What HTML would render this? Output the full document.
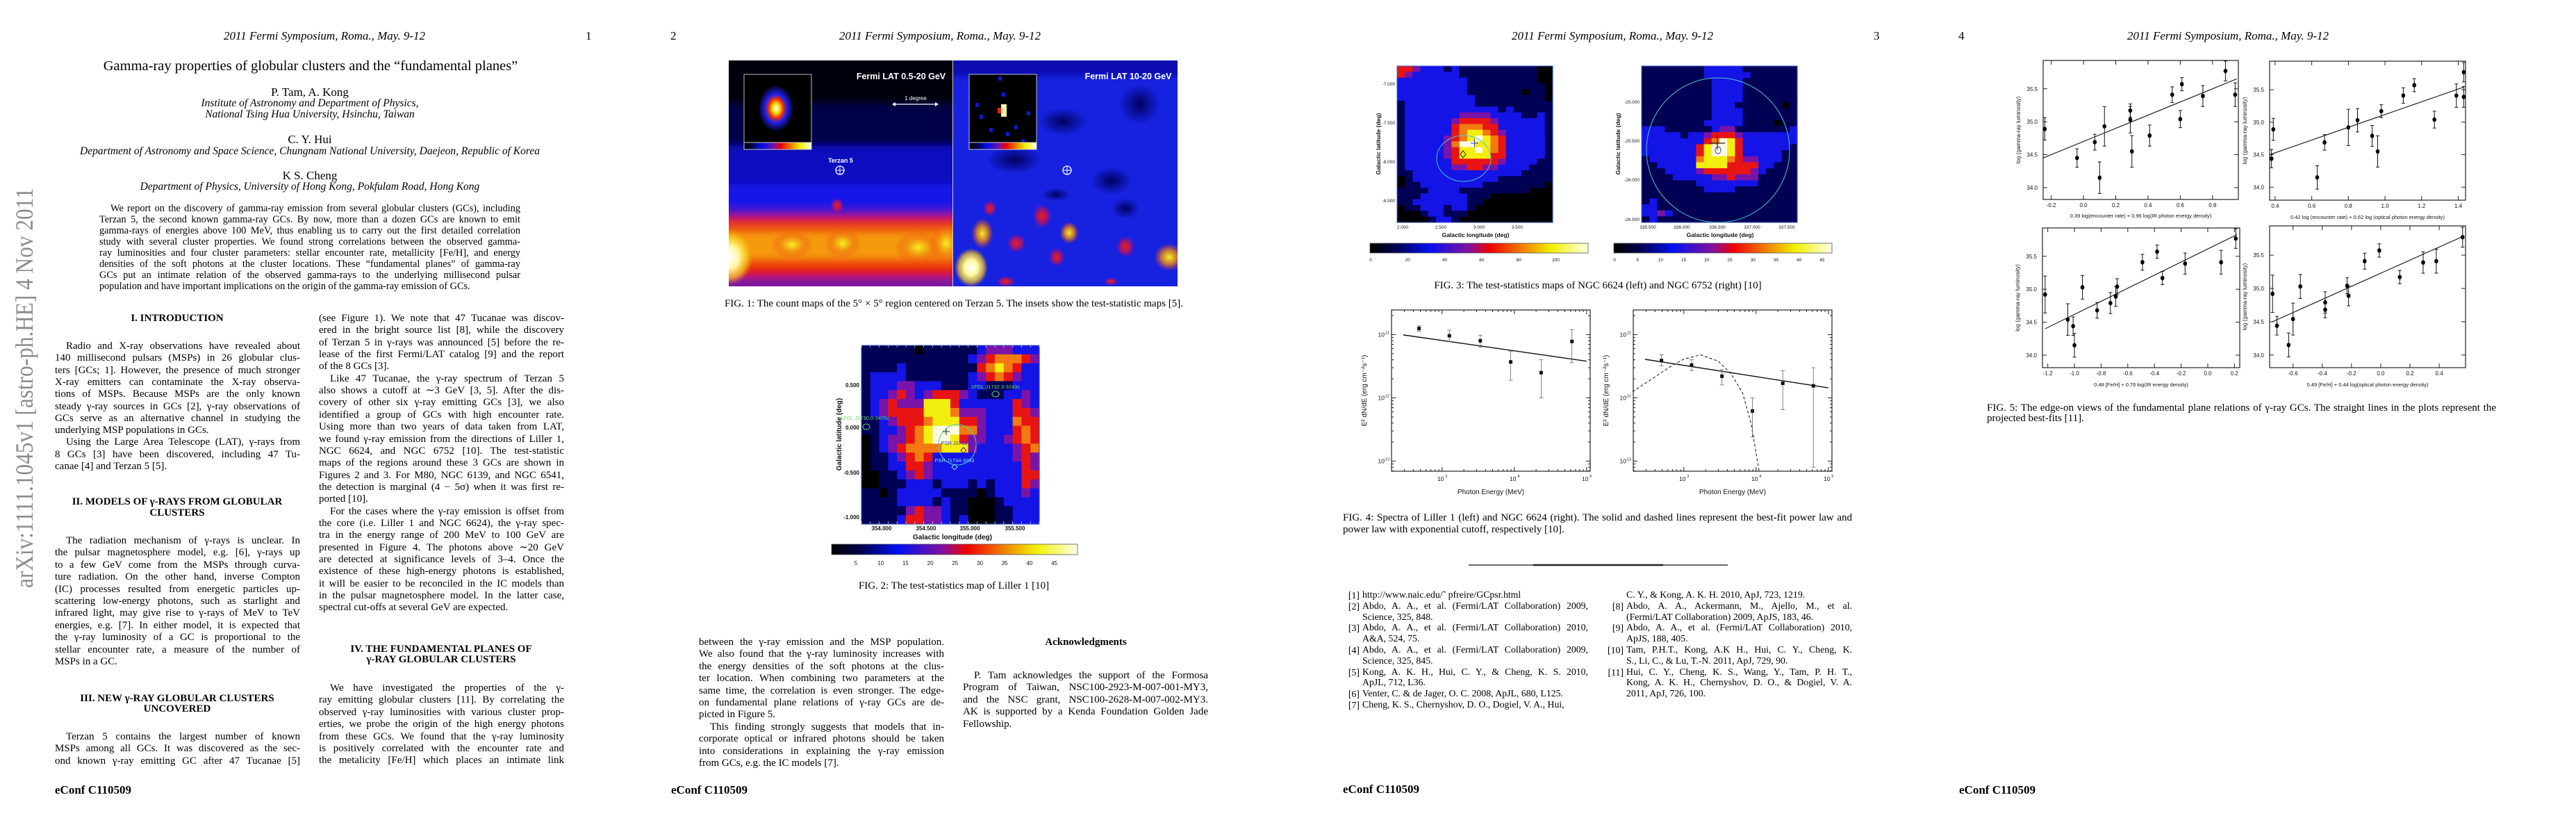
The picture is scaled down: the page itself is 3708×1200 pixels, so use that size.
<!DOCTYPE html>
<html><head><meta charset="utf-8">
<style>
body{margin:0;width:3708px;height:1200px;background:#fff;position:relative;overflow:hidden;font-family:"Liberation Serif",serif;color:#000}
.a{position:absolute;white-space:nowrap}
.c{position:absolute;white-space:nowrap;text-align:center}
.ln{position:absolute;height:18px;line-height:18px;font-size:15px;text-align:justify;text-align-last:justify;overflow:hidden;white-space:normal}
.ln.last{text-align-last:left}
.hd{font-style:italic;font-size:17px}
.sec{font-weight:bold;font-size:15px}
svg text{font-family:"Liberation Sans",sans-serif}
</style></head>
<body>
<svg id="g" width="3708" height="1200" style="position:absolute;left:0;top:0">
<defs>
<linearGradient id="cb" x1="0" x2="1" y1="0" y2="0">
<stop offset="0" stop-color="#000"/><stop offset="0.12" stop-color="#000050"/><stop offset="0.27" stop-color="#0010f0"/><stop offset="0.45" stop-color="#8010a0"/><stop offset="0.55" stop-color="#f00000"/><stop offset="0.7" stop-color="#f08000"/><stop offset="0.83" stop-color="#f0f000"/><stop offset="1" stop-color="#ffffe8"/>
</linearGradient>
<radialGradient id="hotw"><stop offset="0" stop-color="#ffffff"/><stop offset="0.4" stop-color="#fff8a0"/><stop offset="0.75" stop-color="#f8d020" stop-opacity="0.7"/><stop offset="1" stop-color="#f0a000" stop-opacity="0"/></radialGradient>
<radialGradient id="hoty"><stop offset="0" stop-color="#f8f020"/><stop offset="0.5" stop-color="#f09010" stop-opacity="0.8"/><stop offset="1" stop-color="#f04010" stop-opacity="0"/></radialGradient>
<radialGradient id="hotr"><stop offset="0" stop-color="#f02010"/><stop offset="0.6" stop-color="#c01060" stop-opacity="0.7"/><stop offset="1" stop-color="#6010c0" stop-opacity="0"/></radialGradient>
<radialGradient id="navy"><stop offset="0" stop-color="#000060"/><stop offset="1" stop-color="#000060" stop-opacity="0"/></radialGradient>
<radialGradient id="ins"><stop offset="0" stop-color="#ffffff"/><stop offset="0.2" stop-color="#f8e000"/><stop offset="0.4" stop-color="#f03000"/><stop offset="0.6" stop-color="#2020f0"/><stop offset="1" stop-color="#000" stop-opacity="1"/></radialGradient>
<clipPath id="clipL"><rect x="1049" y="87" width="322" height="325"/></clipPath>
<clipPath id="clipR"><rect x="1372" y="87" width="323" height="325"/></clipPath>
<filter id="bl" x="-10%" y="-10%" width="120%" height="120%"><feGaussianBlur stdDeviation="5"/></filter>
</defs>
</svg>
<div id="t"></div>
<script>
// ---------------- chart data (Fig. 4 spectra) ----------------
const spL_energy=[480,1260,3380,8900,23500,62700];
const spL_flux=[1.25e-11,9.6e-12,8.0e-12,3.7e-12,2.5e-12,7.8e-12];
const spL_errLo=[1.12e-11,7.7e-12,6.3e-12,1.9e-12,1.0e-12,3.6e-12];
const spL_errHi=[1.38e-11,1.18e-11,9.8e-12,5.4e-12,4.0e-12,1.2e-11];
const spL_fitE=[290,100000];
const spL_fitF=[9.9e-12,3.8e-12];
const spR_energy=[490,1280,3370,8900,23400,62000];
const spR_flux=[3.9e-12,3.3e-12,2.2e-12,6.2e-13,1.7e-12,1.55e-12];
const spR_errLo=[3.2e-12,2.7e-12,1.6e-12,2.4e-13,6.5e-13,8e-14];
const spR_errHi=[4.8e-12,4.0e-12,2.8e-12,1.0e-12,2.7e-12,3.0e-12];
const spR_fitE=[290,100000];
const spR_fitF=[4.07e-12,1.44e-12];
const spR_cutE=[195,400,700,1000,1700,3000,4500,6500,8500,11000];
const spR_cutF=[1.25e-12,2.15e-12,3.3e-12,4.1e-12,4.8e-12,3.8e-12,2.4e-12,1.2e-12,4e-13,7e-14];
const spXTicks=[1e3,1e4,1e5];
const spXTickLabels=["10","10","10"];
const spXTickExp=["3","4","5"];
const spYTicks=[1e-11,1e-12,1e-13];
const spYTickExp=["-11","-12","-13"];

// ---------------- chart data (Fig. 5 fundamental planes) ----------------
const fpTL_x=[-0.24,-0.04,0.07,0.10,0.13,0.29,0.29,0.30,0.41,0.55,0.60,0.61,0.74,0.88,0.94];
const fpTL_y=[34.89,34.45,34.69,34.15,34.93,35.03,35.17,34.55,34.79,35.41,35.04,35.57,35.39,35.77,35.41];
const fpTL_err=[0.17,0.14,0.12,0.24,0.3,0.2,0.1,0.24,0.16,0.12,0.13,0.1,0.16,0.15,0.18];
const fpTL_fitX=[-0.25,0.95]; const fpTL_fitY=[34.45,35.65];
const fpTR_x=[0.39,0.38,0.63,0.67,0.80,0.85,0.93,0.96,0.98,1.10,1.16,1.27,1.39,1.43,1.43];
const fpTR_y=[34.89,34.44,34.15,34.69,34.92,35.03,34.79,34.55,35.17,35.41,35.57,35.04,35.41,35.39,35.77];
const fpTR_err=[0.17,0.14,0.18,0.12,0.28,0.18,0.16,0.24,0.1,0.12,0.1,0.13,0.18,0.16,0.15];
const fpTR_fitX=[0.37,1.43]; const fpTR_fitY=[34.5,35.54];
const fpBL_x=[-1.22,-1.05,-1.01,-1.00,-0.94,-0.83,-0.73,-0.69,-0.68,-0.49,-0.38,-0.34,-0.17,0.10,0.21];
const fpBL_y=[34.92,34.54,34.44,34.15,35.03,34.68,34.79,34.89,35.04,35.41,35.57,35.17,35.39,35.41,35.77];
const fpBL_err=[0.28,0.24,0.14,0.18,0.18,0.12,0.16,0.15,0.12,0.12,0.1,0.1,0.16,0.18,0.15];
const fpBL_fitX=[-1.22,0.22]; const fpBL_fitY=[34.4,35.83];
const fpBR_x=[-0.74,-0.71,-0.63,-0.60,-0.55,-0.38,-0.38,-0.23,-0.22,-0.11,-0.01,0.13,0.29,0.38,0.56];
const fpBR_y=[34.92,34.44,34.15,34.54,35.03,34.79,34.68,35.04,34.89,35.41,35.57,35.17,35.39,35.41,35.77];
const fpBR_err=[0.28,0.14,0.18,0.24,0.18,0.16,0.12,0.12,0.15,0.12,0.1,0.1,0.16,0.18,0.15];
const fpBR_fitX=[-0.74,0.56]; const fpBR_fitY=[34.5,35.78];
const fpYTicks=[34.0,34.5,35.0,35.5];
const fpYTickLabels=["34.0","34.5","35.0","35.5"];
const fpTL_xticks=[-0.2,0.0,0.2,0.4,0.6,0.8];
const fpTR_xticks=[0.4,0.6,0.8,1.0,1.2,1.4];
const fpBL_xticks=[-1.2,-1.0,-0.8,-0.6,-0.4,-0.2,0.0,0.2];
const fpBR_xticks=[-0.6,-0.4,-0.2,0.0,0.2,0.4];

// ---------------- heatmap data (colour codes) ----------------
const fig2Rows=["nnnnnnknnnnnnbpppbbb","nnnnnnnnnnnnbprooorp","nnnnbnnnnnnnnroyorbb","nbbbbnnnnnnnbprorpbb","nbbbppbbbnnnbbnnnbbb","nbbprpbprrrpbnnnbbpb","nbprpppyyyrbbbbbbrpb","nbprrrryyyopppbbbrrp","nnbprrroyyyrrpbbborr","nnbbproywwwoopbbbror","knbpproywwyrppbbpror","knbprooooyyypbbbbpror","knnbprorbbbbbbbbbprp","knnbbrrpbbbbbbbbbbrp","kknnbprpbbbbbbbbbbrr","kknnnbbbnbbbnbnbbbrp","nnknbbbbbnnnnknbbbpb","nnnnbbbbnbnnkkknbbbb","nnnnnprppbnnkkknnbbb","nnnnbrrppbnbkkknnbbb"];
const fig3LRows=["rrpbbbnbnnnnnnnnnnkk","rpbbbbbbnnnnnnnnnnkk","bbbbbbbbbnnnnnnnnnkk","bbbbbbbbbnnnnnnnnnnk","bbbbbbbbbnnnnnnnknnk","bbbbbbbbbbnnnnnnnnnk","nbbbbbbbbbnnnnnnnnnn","nbbbbbbbbbbbbnbnnnnn","nbbbbbbbppppbbbbnnbn","nbbbbbbprrrrpbbbbbbn","nbbbbbbrooorrbbbbbbn","nbbbbbbroyyorpbbbbbn","nbbbbbproywyorbbbbbn","nbbbbbpowwyyorbbbbbn","nbbbbbpryywyorbbbbbn","nbbbbbpryyyyrrbbbbbn","nbbbbbbrrrrrrpbbbbnn","nbbbbbbpprrppbbbbnnn","nnbbbbbbbbbbbbbbnnnn","knbbbbbbbbbbbnnnnnnn","knnbbbbbbbbnnnnnnnnk","nnnnbbbbnnnnnnnnnkkk","nnnbbbbbbnnnkkkkkkkk","nnbbbbbbbnnkkkkkkkkk","knnbbbnbbnkkkkkkkkkk","kkknbbnnnkkkkkkkkkkk","kkkknbbnkkkkkkkkkkkk"];
const fig3RRows=["nnnnnnnnbbbbbnnnnnnn","nnnnnnnnbbbbbbnnnnnn","nnnnnnnnnbbbbnnnnnnn","nnnnnnnnnbbbbnnnnnnn","nnnnnnnnnbbbbnnnnnnn","nnnnnnnnnbbbbnnnnnnn","nnnnnnnnnbbbnnnnnnkn","nnnnnnnnnbbbbnnnnnnn","nnnnnnnnnbbbbnnnnnnn","nnnnnnnnbbbbbnnnnknn","bbbnnnnnnbppnnnnnnnb","bbbbbnbbprrrpbbbbbbb","bbbbbbbbrowyrbbbbbbb","bbbbbbbrywwyrbbbbbbn","bbbbbbbrywwyrbbbbbnn","nbbbbbboyyyorppbbbnn","nnbbbbbyyyyrrrrbbnnn","nnnbbbbprrrrrrpbnnnn","nnnnbbbbbpprpppnnnnn","nnnnnnnbbbbbbbbnnnnn","nnnnnnnnbbbbnnnnnnnn","nnnnnnnnnnnnnnnnnnnn","nbnnnnnnnnnnnnnnnnnn","bbnnnnnnnnnnnnnnnnnn","bbpbnnnnnnnnnnnnnnnn","nbnnnnnnnnnnnnnnnnnn"];
const heatColors={k:"#000000",n:"#000055",b:"#1414e6",p:"#7a14a8",r:"#e81414",o:"#f27a10",y:"#f2ee10",w:"#fffbe0"};
// Fig.1 count-map vertical colour bands [yTop, yBottom, colour]
const fig1LeftBands=[[70,150,"#000010"],[150,210,"#000048"],[210,265,"#0a0ac0"],[265,300,"#1818e8"],[300,311,"#5a18b8"],[311,322,"#d81838"],[322,335,"#f05010"],[335,372,"#f59a10"],[372,385,"#f04a10"],[385,398,"#e01818"],[398,430,"#8018a0"]];
const fig1RightBands=[[70,110,"#0a10b0"],[110,430,"#1420e0"]];
// Fig.1 count-map blobs [cx, cy, rx, ry, kind]
const fig1LeftBlobs=[[1050,370,34,40,"hotw"],[1213,350,26,22,"hoty"],[1322,356,34,24,"hoty"],[1362,350,24,30,"hoty"],[1140,352,30,20,"hoty"],[1205,296,10,12,"hotr"]];
const fig1RightBlobs=[[1414,336,16,22,"hoty"],[1398,385,24,28,"hotw"],[1539,335,14,16,"hoty"],[1463,350,14,14,"hotr"],[1620,355,14,16,"hotr"],[1683,370,22,20,"hoty"],[1500,311,14,18,"hotr"],[1521,370,12,14,"hotr"],[1448,405,14,8,"hotr"],[1599,405,10,6,"hotr"],[1425,300,10,12,"hotr"],[1530,175,35,20,"navy"],[1640,150,30,30,"navy"],[1460,230,40,20,"navy"],[1600,260,30,20,"navy"],[1520,280,20,10,"navy"],[1620,300,20,15,"navy"]];

const svg=document.getElementById('g');
const root=document.getElementById('t');
const NS="http://www.w3.org/2000/svg";
function el(tag,attrs,parent){const e=document.createElementNS(NS,tag);for(const k in attrs)e.setAttribute(k,attrs[k]);(parent||svg).appendChild(e);return e;}
function stxt(x,y,s,size,anchor,extra){const e=el('text',Object.assign({x:x,y:y,'font-size':size,'text-anchor':anchor||'middle',fill:'#111'},extra||{}));e.textContent=s;return e;}

// ---------- text helpers ----------
function para(x,y0,dy,w,arr,fs){
  arr.forEach((s,i)=>{
    const d=document.createElement('div');
    const ind=s[0]==='^'; const last=s.endsWith('$');
    s=s.replace(/^\^/,'').replace(/\$$/,'');
    d.className='ln'+(last?' last':'');
    d.style.left=(x+(ind?16:0))+'px'; d.style.width=(w-(ind?16:0))+'px';
    d.style.top=(y0+i*dy-9)+'px';
    if(fs)d.style.fontSize=fs+'px';
    d.textContent=s;
    
    
    root.appendChild(d);
  });
}
function ctext(cx,cy,s,cls,style,name){
  const d=document.createElement('div');
  d.className='c '+(cls||'');
  d.style.left=(cx-450)+'px';d.style.width='900px';d.style.top=(cy-10)+'px';d.style.lineHeight='20px';
  if(style)d.style.cssText+=style;
  d.textContent=s;
  
  
  root.appendChild(d);return d;
}
function ltext(x,cy,s,cls,style,name){
  const d=document.createElement('div');
  d.className='a '+(cls||'');
  d.style.left=x+'px';d.style.top=(cy-10)+'px';d.style.lineHeight='20px';
  if(style)d.style.cssText+=style;
  d.textContent=s;
  
  
  root.appendChild(d);return d;
}

// ---------- headers / footers ----------
const P=[0,927,1854,2781];
[0,2].forEach(i=>{ctext(P[i]+467,52,'2011 Fermi Symposium, Roma., May. 9-12','hd','','running-header');ltext(P[i]+843,52,String(i+1),'','font-size:17px','page-number');});
[1,3].forEach(i=>{ctext(P[i]+426,52,'2011 Fermi Symposium, Roma., May. 9-12','hd','','running-header');ltext(P[i]+38,52,String(i+1),'','font-size:17px','page-number');});
ltext(79,1137,'eConf C110509','','font-weight:bold;font-size:17px','footer-econf');
ltext(927+39,1137,'eConf C110509','','font-weight:bold;font-size:17px','footer-econf');
ltext(1854+79,1136,'eConf C110509','','font-weight:bold;font-size:17px','footer-econf');
ltext(2781+39,1137,'eConf C110509','','font-weight:bold;font-size:17px','footer-econf');

// arXiv side stamp
const ax=document.createElement('div');
ax.className='a';ax.style.cssText+='font-size:36px;color:#8c8c8c;line-height:40px;left:0;top:0;transform-origin:0 0;';
ax.textContent='arXiv:1111.1045v1  [astro-ph.HE]  4 Nov 2011';


root.appendChild(ax);
{const w=ax.offsetWidth||740;const k=576/w;ax.style.transform='translate(15px,846px) rotate(-90deg) scaleX('+k+')';}

// ---------- page 1 ----------
ctext(447,95,'Gamma-ray properties of globular clusters and the \u201cfundamental planes\u201d','', 'font-size:20.5px','paper-title');
ctext(446,133,'P. Tam,  A. Kong','','font-size:17px','authors');
ctext(446,149,'Institute of Astronomy and Department of Physics,','','font-style:italic;font-size:15.5px','affiliation');
ctext(446,165,'National Tsing Hua University, Hsinchu, Taiwan','','font-style:italic;font-size:15.5px','affiliation');
ctext(446,201,'C. Y. Hui','','font-size:17px','author');
ctext(446,218,'Department of Astronomy and Space Science, Chungnam National University, Daejeon, Republic of Korea','','font-style:italic;font-size:15.5px','affiliation');
ctext(446,253,'K S. Cheng','','font-size:17px','author');
ctext(446,269,'Department of Physics, University of Hong Kong, Pokfulam Road, Hong Kong','','font-style:italic;font-size:15.5px','affiliation');
para(143,300,16,606,[
"^We report on the discovery of gamma-ray emission from several globular clusters (GCs), including",
"Terzan 5, the second known gamma-ray GCs. By now, more than a dozen GCs are known to emit",
"gamma-rays of energies above 100 MeV, thus enabling us to carry out the first detailed correlation",
"study with several cluster properties. We found strong correlations between the observed gamma-",
"ray luminosities and four cluster parameters: stellar encounter rate, metallicity [Fe/H], and energy",
"densities of the soft photons at the cluster locations. These \u201cfundamental planes\u201d of gamma-ray",
"GCs put an intimate relation of the observed gamma-rays to the underlying millisecond pulsar",
"population and have important implications on the origin of the gamma-ray emission of GCs.$"],14.3);
ctext(255,458,'I.   INTRODUCTION','sec','','section-heading');
para(79,498,17.3,353,[
"^Radio and X-ray observations have revealed about",
"140 millisecond pulsars (MSPs) in 26 globular clus-",
"ters [GCs; 1]. However, the presence of much stronger",
"X-ray emitters can contaminate the X-ray observa-",
"tions of MSPs. Because MSPs are the only known",
"steady \u03b3-ray sources in GCs [2], \u03b3-ray observations of",
"GCs serve as an alternative channel in studying the",
"underlying MSP populations in GCs.$",
"^Using the Large Area Telescope (LAT), \u03b3-rays from",
"8 GCs [3] have been discovered, including 47 Tu-",
"canae [4] and Terzan 5 [5].$"]);
ctext(255,722,'II.   MODELS OF \u03b3-RAYS FROM GLOBULAR','sec','','section-heading');
ctext(255,738,'CLUSTERS','sec','','section-heading');
para(79,778,17.4,353,[
"^The radiation mechanism of \u03b3-rays is unclear. In",
"the pulsar magnetosphere model, e.g. [6], \u03b3-rays up",
"to a few GeV come from the MSPs through curva-",
"ture radiation. On the other hand, inverse Compton",
"(IC) processes resulted from energetic particles up-",
"scattering low-energy photons, such as starlight and",
"infrared light, may give rise to \u03b3-rays of MeV to TeV",
"energies, e.g. [7]. In either model, it is expected that",
"the \u03b3-ray luminosity of a GC is proportional to the",
"stellar encounter rate, a measure of the number of",
"MSPs in a GC.$"]);
ctext(255,1005,'III.   NEW \u03b3-RAY GLOBULAR CLUSTERS','sec','','section-heading');
ctext(255,1020,'UNCOVERED','sec','','section-heading');
para(79,1060,17.4,353,[
"^Terzan 5 contains the largest number of known",
"MSPs among all GCs. It was discovered as the sec-",
"ond known \u03b3-ray emitting GC after 47 Tucanae [5]"]);
para(459,458,17.35,353,[
"(see Figure 1). We note that 47 Tucanae was discov-",
"ered in the bright source list [8], while the discovery",
"of Terzan 5 in \u03b3-rays was announced [5] before the re-",
"lease of the first Fermi/LAT catalog [9] and the report",
"of the 8 GCs [3].$",
"^Like 47 Tucanae, the \u03b3-ray spectrum of Terzan 5",
"also shows a cutoff at \u223c3 GeV [3, 5]. After the dis-",
"covery of other six \u03b3-ray emitting GCs [3], we also",
"identified a group of GCs with high encounter rate.",
"Using more than two years of data taken from LAT,",
"we found \u03b3-ray emission from the directions of Liller 1,",
"NGC 6624, and NGC 6752 [10]. The test-statistic",
"maps of the regions around these 3 GCs are shown in",
"Figures 2 and 3. For M80, NGC 6139, and NGC 6541,",
"the detection is marginal (4 \u2212 5\u03c3) when it was first re-",
"ported [10].$",
"^For the cases where the \u03b3-ray emission is offset from",
"the core (i.e. Liller 1 and NGC 6624), the \u03b3-ray spec-",
"tra in the energy range of 200 MeV to 100 GeV are",
"presented in Figure 4. The photons above \u223c20 GeV",
"are detected at significance levels of 3\u20134. Once the",
"existence of these high-energy photons is established,",
"it will be easier to be reconciled in the IC models than",
"in the pulsar magnetosphere model. In the latter case,",
"spectral cut-offs at several GeV are expected.$"]);
ctext(635,934,'IV.   THE FUNDAMENTAL PLANES OF','sec','','section-heading');
ctext(635,949,'\u03b3-RAY GLOBULAR CLUSTERS','sec','','section-heading');
para(459,990,17.4,353,[
"^We have investigated the properties of the \u03b3-",
"ray emitting globular clusters [11]. By correlating the",
"observed \u03b3-ray luminosities with various cluster prop-",
"erties, we probe the origin of the high energy photons",
"from these GCs. We found that the \u03b3-ray luminosity",
"is positively correlated with the encounter rate and",
"the metalicity [Fe/H] which places an intimate link"]);

// ---------- page 2 ----------
ctext(927+446,437,'FIG. 1: The count maps of the 5\u00b0 \u00d7 5\u00b0 region centered on Terzan 5. The insets show the test-statistic maps [5].','','font-size:15px','figure-caption');
ctext(927+446,843,'FIG. 2: The test-statistics map of Liller 1 [10]','','font-size:15px','figure-caption');
para(927+79,924,17.4,353,[
"between the \u03b3-ray emission and the MSP population.",
"We also found that the \u03b3-ray luminosity increases with",
"the energy densities of the soft photons at the clus-",
"ter location. When combining two parameters at the",
"same time, the correlation is even stronger. The edge-",
"on fundamental plane relations of \u03b3-ray GCs are de-",
"picted in Figure 5.$",
"^This finding strongly suggests that models that in-",
"corporate optical or infrared photons should be taken",
"into considerations in explaining the \u03b3-ray emission",
"from GCs, e.g. the IC models [7].$"]);
ctext(927+636,924,'Acknowledgments','sec','','acknowledgments-heading');
para(927+459,972,17.4,353,[
"^P. Tam acknowledges the support of the Formosa",
"Program of Taiwan, NSC100-2923-M-007-001-MY3,",
"and the NSC grant, NSC100-2628-M-007-002-MY3.",
"AK is supported by a Kenda Foundation Golden Jade",
"Fellowship.$"]);

// ---------- page 3 text ----------
ctext(1854+446,411,'FIG. 3: The test-statistics maps of NGC 6624 (left) and NGC 6752 (right) [10]','','font-size:15px','figure-caption');
para(1854+79,745,16.5,733,[
"FIG. 4: Spectra of Liller 1 (left) and NGC 6624 (right). The solid and dashed lines represent the best-fit power law and",
"power law with exponential cutoff, respectively [10].$"],15);
function refs(x,y0,items){
  let i=0;
  items.forEach(it=>{
    if(it[0]){ltext(x,y0+i*15.8+1,it[0],'','font-size:13.8px;width:24px;text-align:right','reference-label');}
    it[1].forEach((s,j)=>{
      const last=(j===it[1].length-1);
      para(x+28,y0+i*15.8,15.8,325,[s+(last?'$':'')],13.8);
      i++;
    });
  });
}
refs(1854+79,856,[
["[1]",["http://www.naic.edu/\u02dc pfreire/GCpsr.html"]],
["[2]",["Abdo, A. A., et al. (Fermi/LAT Collaboration) 2009,","Science, 325, 848."]],
["[3]",["Abdo, A. A., et al. (Fermi/LAT Collaboration) 2010,","A&A, 524, 75."]],
["[4]",["Abdo, A. A., et al. (Fermi/LAT Collaboration) 2009,","Science, 325, 845."]],
["[5]",["Kong, A. K. H., Hui, C. Y., & Cheng, K. S. 2010,","ApJL, 712, L36."]],
["[6]",["Venter, C. & de Jager, O. C. 2008, ApJL, 680, L125."]],
["[7]",["Cheng, K. S., Chernyshov, D. O., Dogiel, V. A., Hui,"]]]);
refs(1854+459,856,[
["",["C. Y., & Kong, A. K. H. 2010, ApJ, 723, 1219."]],
["[8]",["Abdo, A. A., Ackermann, M., Ajello, M., et al.","(Fermi/LAT Collaboration) 2009, ApJS, 183, 46."]],
["[9]",["Abdo, A. A., et al. (Fermi/LAT Collaboration) 2010,","ApJS, 188, 405."]],
["[10]",["Tam, P.H.T., Kong, A.K H., Hui, C. Y., Cheng, K.","S., Li, C., & Lu, T.-N. 2011, ApJ, 729, 90."]],
["[11]",["Hui, C. Y., Cheng, K. S., Wang, Y., Tam, P. H. T.,","Kong, A. K. H., Chernyshov, D. O., & Dogiel, V. A.","2011, ApJ, 726, 100."]]]);
el('line',{x1:1854+260,y1:813,x2:1854+633,y2:813,stroke:'#111','stroke-width':1.3});
el('line',{x1:1854+353,y1:813,x2:1854+540,y2:813,stroke:'#222','stroke-width':2.6});

// ---------- page 4 text ----------
para(2781+79,587,15,733,[
"FIG. 5: The edge-on views of the fundamental plane relations of \u03b3-ray GCs. The straight lines in the plots represent the",
"projected best-fits [11].$"],15);

// ================= FIGURE 1 =================
(function(){
  const gL=el('g',{'clip-path':'url(#clipL)'});
  
  
  const gLb=el('g',{filter:'url(#bl)'},gL);
  fig1LeftBands.forEach(b=>el('rect',{x:1030,y:b[0],width:360,height:b[1]-b[0],fill:b[2]},gLb));
  fig1LeftBlobs.forEach(b=>el('ellipse',{cx:b[0],cy:b[1],rx:b[2],ry:b[3],fill:'url(#'+b[4]+')'},gL));
  const gR=el('g',{'clip-path':'url(#clipR)'});
  
  
  const gRb=el('g',{filter:'url(#bl)'},gR);
  fig1RightBands.forEach(b=>el('rect',{x:1355,y:b[0],width:360,height:b[1]-b[0],fill:b[2]},gRb));
  fig1RightBlobs.forEach(b=>el('ellipse',{cx:b[0],cy:b[1],rx:b[2],ry:b[3],fill:'url(#'+b[4]+')'},gR));
  el('line',{x1:1371.5,y1:87,x2:1371.5,y2:412,stroke:'#ccc','stroke-width':1});
  // insets
  el('rect',{x:1071,y:107,width:97,height:98,fill:'#000',stroke:'#bbb'});
  el('ellipse',{cx:1117,cy:156,rx:26,ry:34,fill:'url(#ins)'});
  el('rect',{x:1071,y:205,width:97,height:10,fill:'url(#cb)',stroke:'#ccc'});
  el('rect',{x:1395,y:107,width:97,height:98,fill:'#000',stroke:'#bbb'});
  [[1404,148],[1410,165],[1442,133],[1437,110],[1424,184],[1460,180],[1470,200],[1448,190],[1478,160]].forEach(p=>el('rect',{x:p[0],y:p[1],width:5,height:6,fill:'#1414d0'}));
  el('rect',{x:1441,y:150,width:8,height:18,fill:'#f8f0a0'});
  el('rect',{x:1436,y:155,width:5,height:8,fill:'#e82010'});
  el('rect',{x:1395,y:205,width:97,height:10,fill:'url(#cb)',stroke:'#ccc'});
  stxt(1297,114,'Fermi LAT  0.5-20 GeV',12.5,'middle',{fill:'#fff','font-weight':'bold'});
  stxt(1624,114,'Fermi LAT  10-20 GeV',12.5,'middle',{fill:'#fff','font-weight':'bold'});
  stxt(1318,144,'1 degree',8,'middle',{fill:'#fff'});
  el('line',{x1:1286,y1:150,x2:1349,y2:150,stroke:'#fff','stroke-width':1.2});
  el('path',{d:'M1284 150 l5 -3 v6z M1351 150 l-5 -3 v6z',fill:'#fff'});
  stxt(1210,234,'Terzan 5',9,'middle',{fill:'#fff','font-weight':'bold'});
  [1209,1536].forEach(cx=>{el('circle',{cx:cx,cy:245,r:6,fill:'none',stroke:'#fff','stroke-width':1.3});el('path',{d:'M'+(cx-6)+' 245 h12 M'+cx+' 239 v12',stroke:'#fff','stroke-width':1});});
})();

// ================= heatmaps =================
function heat(x,y,w,h,rows,name){
  const g=el('g',{});
  
  
  const nr=rows.length, nc=20, cw=w/nc, ch=h/nr;
  rows.forEach((r,i)=>{
    const s=r.replace(/ /g,'');
    for(let j=0;j<nc;j++){
      el('rect',{x:x+j*cw,y:y+i*ch,width:cw+0.6,height:ch+0.6,fill:heatColors[s[j]||'n']},g);
    }
  });
  return g;
}
// Fig 2
heat(1240,497,256,257,fig2Rows,'fig2-ts-map');
el('rect',{x:1240,y:497,width:256,height:257,fill:'none',stroke:'#3050c0','stroke-width':1});
for(let i=0;i<=20;i++){el('line',{x1:1240+i*12.8,y1:497,x2:1240+i*12.8,y2:500,stroke:'#fff','stroke-width':0.6});el('line',{x1:1240+i*12.8,y1:754,x2:1240+i*12.8,y2:750,stroke:'#fff','stroke-width':0.6});}
[["0.500",554],["0.000",615],["-0.500",680],["-1.000",744]].forEach(t=>stxt(1237,t[1]+3,t[0],8,'end',{'font-weight':'bold'}));
[["354.000",1269],["354.500",1333],["355.000",1396],["355.500",1461]].forEach(t=>stxt(t[1],763,t[0],8,'middle',{'font-weight':'bold'}));
stxt(1371,776,'Galactic longitude (deg)',10,'middle',{'font-weight':'bold'});
stxt(1211,625,'Galactic latitude (deg)',10,'middle',{'font-weight':'bold',transform:'rotate(-90 1211 625)'});
stxt(1433,559,'1FGL J1732.3-3243c',7.5,'middle',{fill:'#5ee05e'});
el('ellipse',{cx:1433,cy:567,rx:5,ry:4,fill:'none',stroke:'#5ee05e','stroke-width':1});
stxt(1245,604,'1FGL J1730.0-3405c',7.5,'middle',{fill:'#5ee05e'});
el('ellipse',{cx:1247,cy:614,rx:5,ry:4,fill:'none',stroke:'#5ee05e','stroke-width':1});
el('ellipse',{cx:1378,cy:640,rx:27,ry:29,fill:'none',stroke:'#50d0d0','stroke-width':1});
el('path',{d:'M1357 621 h10 M1362 616 v10',stroke:'#222','stroke-width':1});
stxt(1383,640,'PSR J1733-3322',7.5,'middle',{fill:'#3030e0'});
el('path',{d:'M1387 644 l4 4 l-4 4 l-4 -4z',fill:'none',stroke:'#602080'});
stxt(1374,665,'PSR J1734-3333',7.5,'middle',{fill:'#80e0ff'});
el('path',{d:'M1374 668 l4 4 l-4 4 l-4 -4z',fill:'none',stroke:'#80e0ff'});
el('rect',{x:1197,y:783,width:354,height:15,fill:'url(#cb)',stroke:'#555','stroke-width':0.8});
[5,10,15,20,25,30,35,40,45].forEach((v,i)=>stxt(1232+i*35.7,813,String(v),8));

// Fig 3
heat(2011,95,224,225,fig3LRows,'fig3-left-ts-map');
heat(2363,95,224,225,fig3RRows,'fig3-right-ts-map');
[[2011],[2363]].forEach(a=>el('rect',{x:a[0],y:95,width:224,height:225,fill:'none',stroke:'#4060d0','stroke-width':1}));
[["-7.000",120],["-7.500",176],["-8.000",232],["-8.500",288]].forEach(t=>stxt(2008,t[1]+3,t[0],6.5,'end'));
[["2.000",2019],["2.500",2074],["3.000",2129],["3.500",2184]].forEach(t=>stxt(t[1],329,t[0],6.5));
[["-25.000",146],["-25.500",202],["-26.000",258],["-26.500",315]].forEach(t=>stxt(2360,t[1]+3,t[0],6.5,'end'));
[["335.500",2372],["336.000",2421],["336.500",2472],["337.000",2522],["337.500",2572]].forEach(t=>stxt(t[1],329,t[0],6.5));
stxt(2124,341,'Galactic longitude (deg)',8.5,'middle',{'font-weight':'bold'});
stxt(2476,341,'Galactic longitude (deg)',8.5,'middle',{'font-weight':'bold'});
stxt(1987,207,'Galactic latitude (deg)',8.5,'middle',{'font-weight':'bold',transform:'rotate(-90 1987 207)'});
stxt(2332,207,'Galactic latitude (deg)',8.5,'middle',{'font-weight':'bold',transform:'rotate(-90 2332 207)'});
el('ellipse',{cx:2107,cy:228,rx:39,ry:33,fill:'none',stroke:'#50c8c8','stroke-width':1});
el('path',{d:'M2117 206 h11 M2122.5 200 v12',stroke:'#3040d0','stroke-width':1});
el('path',{d:'M2106 217 l4 5 l-4 5 l-4 -5z',fill:'none',stroke:'#222','stroke-width':1});
el('ellipse',{cx:2473,cy:216,rx:103,ry:104,fill:'none',stroke:'#50c8c8','stroke-width':1});
el('path',{d:'M2461 206 h22 M2472 195 v20',stroke:'#222','stroke-width':1.2});
el('ellipse',{cx:2473,cy:216,rx:4,ry:5,fill:'none',stroke:'#3040d0','stroke-width':1});
el('rect',{x:1972,y:350,width:314,height:14,fill:'url(#cb)',stroke:'#555','stroke-width':0.8});
el('rect',{x:2323,y:350,width:314,height:14,fill:'url(#cb)',stroke:'#555','stroke-width':0.8});
["0","20","40","60","80","100"].forEach((s,i)=>stxt(1973+i*53.3,376,s,6.5));
["0","5","10","15","20","25","30","35","40","45"].forEach((s,i)=>stxt(2324+i*33.2,376,s,6.5));

// ================= FIGURE 4 spectra =================
function spectrum(bx,by,bw,bh,E,F,lo,hi,fitE,fitF,cutE,cutF,name){
  const xl=[2.30,5.05], yl=[-13.16,-10.61];
  const X=e=>bx+(Math.log10(e)-xl[0])/(xl[1]-xl[0])*bw;
  const Y=f=>by+bh-(Math.log10(f)-yl[0])/(yl[1]-yl[0])*bh;
  const g=el('g',{});
  
  
  el('rect',{x:bx,y:by,width:bw,height:bh,fill:'#fff',stroke:'#222','stroke-width':1.2},g);
  for(let d=2;d<=5;d++)for(let m=1;m<10;m++){const e=m*Math.pow(10,d);if(Math.log10(e)<xl[0]||Math.log10(e)>xl[1])continue;const L=m===1?6:3;
    el('line',{x1:X(e),y1:by+bh,x2:X(e),y2:by+bh-L,stroke:'#222'},g);el('line',{x1:X(e),y1:by,x2:X(e),y2:by+L,stroke:'#222'},g);}
  for(let d=-14;d<=-10;d++)for(let m=1;m<10;m++){const f=m*Math.pow(10,d);const lf=Math.log10(f);if(lf<yl[0]||lf>yl[1])continue;const L=m===1?6:3;
    el('line',{x1:bx,y1:Y(f),x2:bx+L,y2:Y(f),stroke:'#222'},g);el('line',{x1:bx+bw,y1:Y(f),x2:bx+bw-L,y2:Y(f),stroke:'#222'},g);}
  spXTicks.forEach((v,i)=>{stxt(X(v)-2,692,spXTickLabels[i],8.5);stxt(X(v)+6,687,spXTickExp[i],5.5);});
  spYTicks.forEach((v,i)=>{stxt(bx-10,Y(v)+3,'10',8.5,'end');stxt(bx-3,Y(v)-1,spYTickExp[i],5.5,'end');});
  stxt(bx+bw/2,711,'Photon Energy (MeV)',10);
  const lx=bx-36, ly=by+bh/2;
  stxt(lx,ly,'E\u00b2 dN/dE (erg cm\u207b\u00b2s\u207b\u00b9)',10,'middle',{transform:'rotate(-90 '+lx+' '+ly+')'});
  el('line',{x1:X(fitE[0]),y1:Y(fitF[0]),x2:X(fitE[1]),y2:Y(fitF[1]),stroke:'#111','stroke-width':1.4},g);
  if(cutE){el('polyline',{points:cutE.map((e,i)=>X(e)+','+Y(cutF[i])).join(' '),fill:'none',stroke:'#111','stroke-width':1,'stroke-dasharray':'4 3'},g);}
  E.forEach((e,i)=>{
    el('line',{x1:X(e),y1:Y(lo[i]),x2:X(e),y2:Y(hi[i]),stroke:'#666','stroke-width':0.8},g);
    el('line',{x1:X(e)-3,y1:Y(lo[i]),x2:X(e)+3,y2:Y(lo[i]),stroke:'#666','stroke-width':0.8},g);
    el('line',{x1:X(e)-3,y1:Y(hi[i]),x2:X(e)+3,y2:Y(hi[i]),stroke:'#666','stroke-width':0.8},g);
    const p=el('rect',{x:X(e)-2.5,y:Y(F[i])-2.5,width:5,height:5,fill:'#111'},g);
    
    
  });
}
spectrum(2003,446,286,232,spL_energy,spL_flux,spL_errLo,spL_errHi,spL_fitE,spL_fitF,null,null,'fig4-liller1-spectrum');
spectrum(2351,446,286,232,spR_energy,spR_flux,spR_errLo,spR_errHi,spR_fitE,spR_fitF,spR_cutE,spR_cutF,'fig4-ngc6624-spectrum');

// ================= FIGURE 5 =================
function fplane(bx,by,bw,bh,xd,yd,xs,ys,es,fx,fy,xticks,xlabel,tickY,labY,name){
  const X=v=>bx+(v-xd[0])/(xd[1]-xd[0])*bw;
  const Y=v=>by+bh-(v-yd[0])/(yd[1]-yd[0])*bh;
  const g=el('g',{});
  
  
  el('rect',{x:bx,y:by,width:bw,height:bh,fill:'none',stroke:'#222','stroke-width':1.2},g);
  xticks.forEach(v=>{el('line',{x1:X(v),y1:by+bh,x2:X(v),y2:by+bh-6,stroke:'#222'},g);el('line',{x1:X(v),y1:by,x2:X(v),y2:by+6,stroke:'#222'},g);
    stxt(X(v),tickY,v.toFixed(1),8);});
  fpYTicks.forEach((v,i)=>{el('line',{x1:bx,y1:Y(v),x2:bx+6,y2:Y(v),stroke:'#222'},g);el('line',{x1:bx+bw,y1:Y(v),x2:bx+bw-6,y2:Y(v),stroke:'#222'},g);
    stxt(bx-8,Y(v)+3,fpYTickLabels[i],8,'end');});
  stxt(bx+bw/2,labY,xlabel,7.5);
  const lx=bx-33, ly=by+bh/2;
  stxt(lx,ly,'log (gamma-ray luminosity)',8,'middle',{transform:'rotate(-90 '+lx+' '+ly+')'});
  el('line',{x1:X(fx[0]),y1:Y(fy[0]),x2:X(fx[1]),y2:Y(fy[1]),stroke:'#111','stroke-width':1.1},g);
  xs.forEach((x,i)=>{
    const x0=X(x),y1=Y(ys[i]-es[i]),y2=Y(ys[i]+es[i]);
    el('line',{x1:x0,y1:y1,x2:x0,y2:y2,stroke:'#111','stroke-width':1},g);
    el('line',{x1:x0-2.5,y1:y1,x2:x0+2.5,y2:y1,stroke:'#111','stroke-width':1},g);
    el('line',{x1:x0-2.5,y1:y2,x2:x0+2.5,y2:y2,stroke:'#111','stroke-width':1},g);
    const c=el('ellipse',{cx:x0,cy:Y(ys[i]),rx:2.8,ry:3.2,fill:'#000'},g);
    
    
  });
}
fplane(2941,87,281,200,[-0.25,0.96],[33.82,35.93],fpTL_x,fpTL_y,fpTL_err,fpTL_fitX,fpTL_fitY,fpTL_xticks,'0.39 log(encounter rate) + 0.96 log(IR photon energy density)',298,313,'fig5-plane-encounter-ir');
fplane(3267,88,282,200,[0.37,1.44],[33.80,35.94],fpTR_x,fpTR_y,fpTR_err,fpTR_fitX,fpTR_fitY,fpTR_xticks,'0.42 log (encounter rate) + 0.62 log (optical photon energy density)',299,315,'fig5-plane-encounter-optical');
fplane(2940,328,284,201,[-1.24,0.24],[33.81,35.93],fpBL_x,fpBL_y,fpBL_err,fpBL_fitX,fpBL_fitY,fpBL_xticks,'0.48 [Fe/H] + 0.76 log(IR energy density)',540,556,'fig5-plane-feh-ir');
fplane(3267,325,282,204,[-0.76,0.58],[33.81,35.94],fpBR_x,fpBR_y,fpBR_err,fpBR_fitX,fpBR_fitY,fpBR_xticks,'0.49 [Fe/H] + 0.44 log(optical photon energy density)',540,556,'fig5-plane-feh-optical');
</script>
</body></html>
